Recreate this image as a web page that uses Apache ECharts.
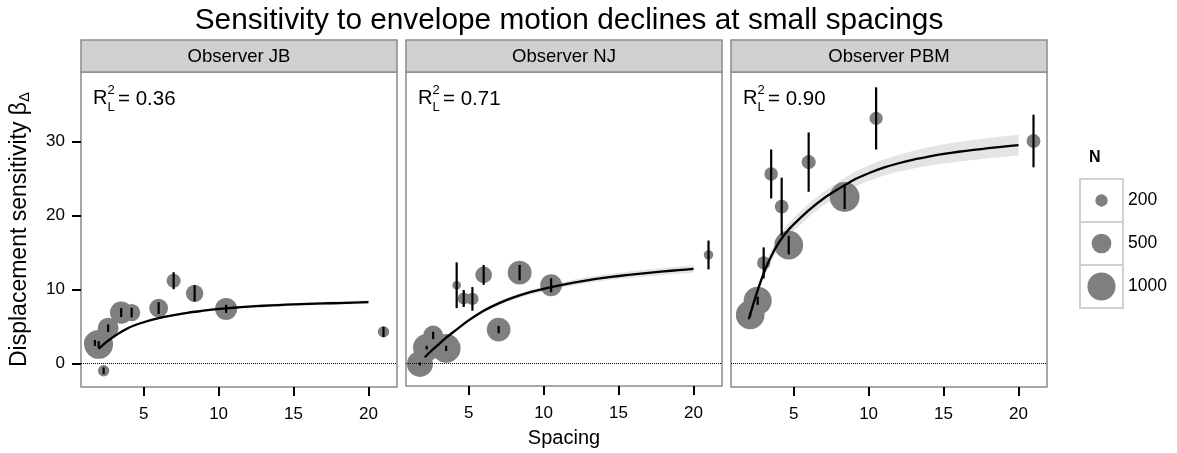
<!DOCTYPE html>
<html>
<head>
<meta charset="utf-8">
<script src="https://cdn.jsdelivr.net/npm/echarts@6/dist/echarts.min.js"></script>
<style>
  html, body { margin: 0; padding: 0; background: #fff; }
  #chart { width: 1177px; height: 453px; }
</style>
</head>
<body>
<div id="chart"></div>
<script>
// ---- data ---------------------------------------------------------------
const observers = ['Observer JB', 'Observer NJ', 'Observer PBM'];
const rSquared = ['0.36', '0.71', '0.90'];
const xTicks = [5, 10, 15, 20];
const yTicks = [0, 10, 20, 30];
const legendN = [200, 500, 1000];

// Observer JB: spacing, sensitivity, error half-width, trial count
const jbSpacing = [1.75, 2.0, 2.33, 2.63, 3.5, 4.2, 6.0, 7.0, 8.4, 10.5, 21.0];
const jbBeta    = [2.8, 2.6, -0.95, 4.8, 6.9, 6.9, 7.5, 11.2, 9.5, 7.4, 4.3];
const jbErr     = [0.4, 0.45, 0.45, 0.5, 0.6, 0.65, 0.8, 1.15, 1.1, 0.55, 0.7];
const jbN       = [620, 1050, 170, 560, 640, 380, 450, 260, 390, 620, 170];
const jbFitX    = [2, 2.5, 3, 4, 5, 6, 7, 8, 9, 10, 11, 12, 13, 14, 15, 16, 17, 18, 19, 20];
const jbFitY    = [2.0, 2.9, 3.65, 4.85, 5.6, 6.15, 6.55, 6.9, 7.15, 7.4, 7.55, 7.7, 7.82, 7.92, 8.0, 8.07, 8.13, 8.19, 8.25, 8.3];
const jbFitBand = [0.1, 0.1, 0.1, 0.11, 0.12, 0.12, 0.13, 0.14, 0.15, 0.16, 0.17, 0.18, 0.19, 0.2, 0.21, 0.22, 0.23, 0.24, 0.24, 0.25];

// Observer NJ
const njSpacing = [1.75, 2.2, 2.63, 3.5, 4.2, 4.67, 5.25, 6.0, 7.0, 8.4, 10.5, 21.0];
const njBeta    = [-0.15, 2.05, 3.7, 1.95, 10.5, 8.7, 8.65, 11.9, 4.5, 12.2, 10.5, 14.6];
const njErr     = [0.2, 0.25, 0.5, 0.35, 3.1, 1.15, 1.6, 1.35, 0.5, 1.05, 0.95, 1.95];
const njN       = [860, 950, 500, 1050, 100, 190, 200, 360, 720, 730, 610, 120];
const njFitX    = [2.07, 2.5, 3, 3.5, 4, 5, 6, 7, 8, 9, 10, 11, 12, 13, 14, 15, 16, 17, 18, 19, 20];
const njFitY    = [0.75, 1.6, 2.5, 3.4, 4.2, 5.75, 7.05, 8.05, 8.85, 9.5, 10.0, 10.45, 10.85, 11.2, 11.5, 11.75, 11.98, 12.18, 12.37, 12.55, 12.7];
const njFitBand = [0.2, 0.2, 0.2, 0.21, 0.22, 0.24, 0.26, 0.28, 0.3, 0.32, 0.34, 0.36, 0.38, 0.4, 0.41, 0.42, 0.44, 0.46, 0.47, 0.49, 0.5];

// Observer PBM
const pbmSpacing = [2.1, 2.6, 3.0, 3.5, 4.2, 4.67, 6.0, 8.4, 10.5, 21.0];
const pbmBeta    = [6.6, 8.5, 13.6, 25.6, 21.2, 16.0, 27.2, 22.5, 33.1, 30.05];
const pbmErr     = [0.3, 0.55, 2.1, 3.3, 3.9, 1.25, 4.0, 1.65, 4.2, 3.55];
const pbmN       = [1050, 1000, 230, 240, 250, 1050, 260, 1130, 230, 250];
const pbmFitX    = [2, 2.5, 3, 3.5, 4, 4.5, 5, 6, 7, 8, 9, 10, 11, 12, 13, 14, 15, 16, 17, 18, 19, 20];
const pbmFitY    = [6.0, 9.3, 12.2, 14.5, 16.3, 17.7, 18.8, 20.7, 22.3, 23.6, 24.8, 25.7, 26.45, 27.05, 27.55, 27.95, 28.3, 28.6, 28.85, 29.08, 29.3, 29.5];
const pbmFitBand = [0.5, 0.6, 0.7, 0.75, 0.8, 0.85, 0.88, 0.9, 0.92, 0.95, 1.0, 1.05, 1.1, 1.15, 1.2, 1.25, 1.3, 1.32, 1.35, 1.37, 1.4, 1.4];

// ---- layout & style -------------------------------------------------------
const FONT = '"Liberation Sans", Arial, Helvetica, sans-serif';
const GRID_LEFT = [81, 406, 731];
const GRID_TOP = 72;
const GRID_W = 316;
const GRID_H = 315;
const X_MIN = 0.82, X_MAX = 21.9;
const Y_MIN = -3.14, Y_MAX = 39.36;
const POINT_COLOR = '#7f7f7f';
const BAND_COLOR = '#e4e4e4';

// circle diameter grows with the square root of the trial count
const sizeOf = n => 0.9 * Math.sqrt(n) - 0.4;

const panels = [
  { spacing: jbSpacing, beta: jbBeta, err: jbErr, n: jbN, fitX: jbFitX, fitY: jbFitY, band: jbFitBand },
  { spacing: njSpacing, beta: njBeta, err: njErr, n: njN, fitX: njFitX, fitY: njFitY, band: njFitBand },
  { spacing: pbmSpacing, beta: pbmBeta, err: pbmErr, n: pbmN, fitX: pbmFitX, fitY: pbmFitY, band: pbmFitBand }
];

const grids = [], xAxes = [], yAxes = [], series = [], graphics = [];

panels.forEach((p, i) => {
  grids.push({
    left: GRID_LEFT[i], top: GRID_TOP, width: GRID_W, height: GRID_H,
    show: true, backgroundColor: '#fff', borderColor: '#8a8a8a', borderWidth: 1.5
  });

  xAxes.push({
    type: 'value', gridIndex: i, min: X_MIN, max: X_MAX,
    splitLine: { show: false },
    axisLine: { show: false, onZero: false },
    axisTick: { show: true, customValues: xTicks, length: 9, lineStyle: { color: '#000', width: 2 } },
    axisLabel: { customValues: xTicks, fontSize: 17, color: '#000', fontFamily: FONT, margin: 19 },
    name: i === 1 ? 'Spacing' : '',
    nameLocation: 'middle', nameGap: 42,
    nameTextStyle: { fontSize: 20, color: '#000', fontFamily: FONT }
  });

  yAxes.push({
    type: 'value', gridIndex: i, min: Y_MIN, max: Y_MAX,
    splitLine: { show: false },
    axisLine: { show: false, onZero: false },
    axisTick: { show: i === 0, customValues: yTicks, length: 9, lineStyle: { color: '#000', width: 2 } },
    axisLabel: { show: i === 0, customValues: yTicks, fontSize: 17, color: '#000', fontFamily: FONT, margin: 16 },
    name: i === 0 ? '{a|Displacement sensitivity β}{b|Δ}' : '',
    nameLocation: 'middle', nameGap: 49, nameRotate: 90,
    nameTextStyle: {
      fontFamily: FONT, color: '#000',
      rich: {
        a: { fontSize: 23, fontFamily: FONT, color: '#000' },
        b: { fontSize: 15, fontFamily: FONT, color: '#000', verticalAlign: 'bottom', padding: [10, 0, 0, 0] }
      }
    }
  });

  // confidence ribbon around the fitted curve
  const bandData = p.fitX.map((x, k) => [x, p.fitY[k] - p.band[k], p.fitY[k] + p.band[k]]);
  series.push({
    type: 'custom', xAxisIndex: i, yAxisIndex: i, z: 1, silent: true,
    data: bandData,
    encode: { x: 0, y: [1, 2] },
    renderItem: (params, api) => {
      if (params.dataIndex !== 0) return null;
      const upper = bandData.map(d => api.coord([d[0], d[2]]));
      const lower = bandData.map(d => api.coord([d[0], d[1]])).reverse();
      return { type: 'polygon', shape: { points: upper.concat(lower) }, style: { fill: BAND_COLOR } };
    }
  });

  // observations, sized by trial count
  series.push({
    type: 'scatter', xAxisIndex: i, yAxisIndex: i, z: 2, silent: true,
    data: p.spacing.map((s, k) => [s, p.beta[k], p.n[k]]),
    symbol: 'circle',
    symbolSize: v => sizeOf(v[2]),
    itemStyle: { color: POINT_COLOR, opacity: 1 }
  });

  // error bars, plus the dotted zero reference
  series.push({
    type: 'custom', xAxisIndex: i, yAxisIndex: i, z: 3, silent: true,
    data: p.spacing.map((s, k) => [s, p.beta[k] - p.err[k], p.beta[k] + p.err[k]]),
    encode: { x: 0, y: [1, 2] },
    renderItem: (params, api) => {
      const a = api.coord([api.value(0), api.value(1)]);
      const b = api.coord([api.value(0), api.value(2)]);
      return { type: 'line', shape: { x1: a[0], y1: a[1], x2: b[0], y2: b[1] }, style: { stroke: '#000', lineWidth: 2.2 } };
    },
    markLine: {
      silent: true, symbol: 'none', label: { show: false },
      lineStyle: { type: 'dotted', color: '#000', width: 1 },
      data: [{ yAxis: 0 }]
    }
  });

  // fitted curve
  series.push({
    type: 'line', xAxisIndex: i, yAxisIndex: i, z: 4, silent: true,
    data: p.fitX.map((x, k) => [x, p.fitY[k]]),
    smooth: 0.25, showSymbol: false,
    lineStyle: { color: '#000', width: 2.3 }
  });

  // facet strip
  graphics.push({
    type: 'rect', shape: { x: GRID_LEFT[i], y: 40, width: GRID_W, height: 32 },
    style: { fill: '#d0d0d0', stroke: '#8a8a8a', lineWidth: 1.5 }
  });
  graphics.push({
    type: 'text', x: GRID_LEFT[i] + GRID_W / 2, y: 57,
    style: { text: observers[i], font: '18.5px ' + FONT, fill: '#000', textAlign: 'center', textVerticalAlign: 'middle' }
  });

  // R squared annotation
  const lx = GRID_LEFT[i] + 12;
  graphics.push({ type: 'text', x: lx, y: 98, style: { text: 'R', font: '20px ' + FONT, fill: '#000', textVerticalAlign: 'middle' } });
  graphics.push({ type: 'text', x: lx + 14.5, y: 90, style: { text: '2', font: '13px ' + FONT, fill: '#000', textVerticalAlign: 'middle' } });
  graphics.push({ type: 'text', x: lx + 14.5, y: 107, style: { text: 'L', font: '13px ' + FONT, fill: '#000', textVerticalAlign: 'middle' } });
  graphics.push({ type: 'text', x: lx + 25, y: 99, style: { text: '= ' + rSquared[i], font: '20.5px ' + FONT, fill: '#000', textVerticalAlign: 'middle' } });
});

// title
graphics.push({
  type: 'text', x: 569, y: 21,
  style: { text: 'Sensitivity to envelope motion declines at small spacings', font: '29.8px ' + FONT, fill: '#000', textAlign: 'center', textVerticalAlign: 'middle' }
});

// size legend
const LEG_X = 1080, LEG_Y = 179, LEG_BOX = 43;
graphics.push({
  type: 'text', x: LEG_X + 9, y: 158,
  style: { text: 'N', font: 'bold 16px ' + FONT, fill: '#000', textVerticalAlign: 'middle' }
});
legendN.forEach((n, k) => {
  const y0 = LEG_Y + k * LEG_BOX;
  graphics.push({
    type: 'rect', shape: { x: LEG_X, y: y0, width: LEG_BOX, height: LEG_BOX },
    style: { fill: '#fff', stroke: '#d0d0d0', lineWidth: 2 }
  });
  graphics.push({
    type: 'circle', shape: { cx: LEG_X + LEG_BOX / 2, cy: y0 + LEG_BOX / 2, r: sizeOf(n) / 2 },
    style: { fill: POINT_COLOR }
  });
  graphics.push({
    type: 'text', x: LEG_X + LEG_BOX + 5, y: y0 + LEG_BOX / 2,
    style: { text: String(n), font: '17.5px ' + FONT, fill: '#000', textVerticalAlign: 'middle' }
  });
});

const chart = echarts.init(document.getElementById('chart'), null, { renderer: 'canvas' });
chart.setOption({
  animation: false,
  backgroundColor: '#fff',
  grid: grids,
  xAxis: xAxes,
  yAxis: yAxes,
  series: series,
  graphic: graphics
});
</script>
</body>
</html>
